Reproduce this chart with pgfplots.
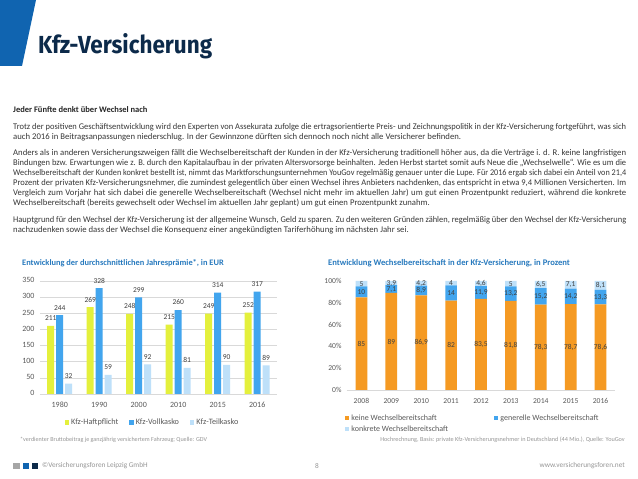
\documentclass[border=0pt]{standalone}
\usepackage{fontspec}
\setmainfont{Carlito}[Numbers=Lining]
\newfontfamily\titlefont{Fira Sans}
\usepackage{graphicx}
\usepackage{pgfplots}
\usepackage{pgfplotstable}
\pgfplotsset{compat=1.18, /pgf/number format/assume math mode=true}
\definecolor{brandblue}{RGB}{16,100,176}
\definecolor{navy}{RGB}{12,42,74}
\definecolor{bodytext}{RGB}{55,55,55}
\definecolor{titleblue}{RGB}{40,122,190}
\definecolor{tickgray}{RGB}{89,89,89}
\definecolor{gridgray}{RGB}{217,217,217}
\definecolor{labgray}{RGB}{64,64,64}
\definecolor{notegray}{RGB}{150,150,150}
\definecolor{hyellow}{RGB}{228,240,60}
\definecolor{vblue}{RGB}{66,165,238}
\definecolor{tlight}{RGB}{190,224,249}
\definecolor{korange}{RGB}{245,154,35}
\definecolor{sqgray}{RGB}{166,166,166}
\newcommand\fs[2]{\fontsize{#1}{#2}\selectfont}
\newsavebox\linebox
\newcommand\jline[2]{\node[anchor=base west, inner sep=0, text=bodytext] at (13pt,#1pt) {\fs{8.7}{10}\sbox\linebox{#2}\ifdim\wd\linebox>613pt\resizebox{613pt}{\height}{#2}\else\makebox[613pt][s]{#2}\fi};}
\newcommand\nline[2]{\node[anchor=base west, inner sep=0, text=bodytext] at (13pt,#1pt) {\fs{8.7}{10}#2};}
\pgfplotstableread{
x h v t
0 211 244 32
1 269 328 59
2 248 299 92
3 215 260 81
4 249 314 90
5 252 317 89
}\praemie
\pgfplotstableread{
x k g c
0 85 10 5
1 89 7.1 3.9
2 86.9 8.9 4.2
3 82 14 4
4 83.5 11.9 4.6
5 81.8 13.2 5
6 78.3 15.2 6.5
7 78.7 14.2 7.1
8 78.6 13.3 8.1
}\wechsel
\begin{document}
\begin{tikzpicture}
\path[use as bounding box, fill=white] (0pt,0pt) rectangle (638pt,479pt);
% header
\fill[brandblue] (0pt,479pt) -- (36pt,479pt) -- (22pt,413pt) -- (0pt,413pt) -- cycle;
\node[anchor=base west, inner sep=0, text=navy] at (38pt,425pt) {\resizebox{174pt}{20pt}{\titlefont\bfseries Kfz-Versicherung}};
% body text
\node[anchor=base west, inner sep=0, text=black!85] at (13pt,366pt) {\fs{8.5}{10}\bfseries Jeder Fünfte denkt über Wechsel nach};
\jline{349.5}{Trotz der positiven Geschäftsentwicklung wird den Experten von Assekurata zufolge die ertragsorientierte Preis- und Zeichnungspolitik in der Kfz-Versicherung fortgeführt, was sich}
\nline{339.5}{auch 2016 in Beitragsanpassungen niederschlug. In der Gewinnzone dürften sich dennoch noch nicht alle Versicherer befinden.}
\jline{323}{Anders als in anderen Versicherungszweigen fällt die Wechselbereitschaft der Kunden in der Kfz-Versicherung traditionell höher aus, da die Verträge i. d. R. keine langfristigen}
\jline{313}{Bindungen bzw. Erwartungen wie z. B. durch den Kapitalaufbau in der privaten Altersvorsorge beinhalten. Jeden Herbst startet somit aufs Neue die „Wechselwelle“. Wie es um die}
\jline{303}{Wechselbereitschaft der Kunden konkret bestellt ist, nimmt das Marktforschungsunternehmen YouGov regelmäßig genauer unter die Lupe. Für 2016 ergab sich dabei ein Anteil von 21,4}
\jline{293}{Prozent der privaten Kfz-Versicherungsnehmer, die zumindest gelegentlich über einen Wechsel ihres Anbieters nachdenken, das entspricht in etwa 9,4 Millionen Versicherten. Im}
\jline{283}{Vergleich zum Vorjahr hat sich dabei die generelle Wechselbereitschaft (Wechsel nicht mehr im aktuellen Jahr) um gut einen Prozentpunkt reduziert, während die konkrete}
\nline{273}{Wechselbereitschaft (bereits gewechselt oder Wechsel im aktuellen Jahr geplant) um gut einen Prozentpunkt zunahm.}
\jline{256.5}{Hauptgrund für den Wechsel der Kfz-Versicherung ist der allgemeine Wunsch, Geld zu sparen. Zu den weiteren Gründen zählen, regelmäßig über den Wechsel der Kfz-Versicherung}
\nline{246.5}{nachzudenken sowie dass der Wechsel die Konsequenz einer angekündigten Tariferhöhung im nächsten Jahr sei.}
% chart titles
\node[anchor=west, inner sep=0, text=titleblue] at (22pt,216pt) {\fs{8.4}{9}\bfseries Entwicklung der durchschnittlichen Jahresprämie*, in EUR};
\node[anchor=west, inner sep=0, text=titleblue] at (328pt,216pt) {\fs{8.6}{9}\bfseries Entwicklung Wechselbereitschaft in der Kfz-Versicherung, in Prozent};
% left chart
\begin{axis}[
  at={(40pt,85pt)}, anchor=south west, scale only axis, width=237pt, height=113pt,
  xmin=-0.5, xmax=5.5, ymin=0, ymax=350,
  ytick={0,50,...,350}, xtick={0,...,5}, xticklabels={1980,1990,2000,2010,2015,2016},
  typeset ticklabels with strut,
  ymajorgrids, grid style={draw=gridgray, line width=0.6pt},
  axis line style={draw=none}, tick style={draw=none},
  ybar=2pt, bar width=7pt,
  ticklabel style={font=\fs{8}{9}, text=tickgray},
  yticklabel style={xshift=-2pt},
  xticklabel style={anchor=north, yshift=1pt},
  nodes near coords,
  every node near coord/.append style={font=\fs{7.5}{8}, text=labgray, yshift=1.5pt},
  legend columns=3,
  legend style={at={(0.475,-0.254)}, anchor=center, draw=none, fill=none, inner sep=0pt,
    font=\fs{8.2}{9}, text=tickgray, /tikz/every even column/.append style={column sep=9pt}},
  legend image code/.code={\fill[#1] (0pt,-2.2pt) rectangle (4.4pt,2.2pt);},
  clip=false]
\addplot[fill=hyellow, draw=none] table[x=x, y=h] {\praemie};
\addplot[fill=vblue, draw=none] table[x=x, y=v] {\praemie};
\addplot[fill=tlight, draw=none] table[x=x, y=t] {\praemie};
\legend{Kfz-Haftpflicht, Kfz-Vollkasko, Kfz-Teilkasko}
\end{axis}
% right chart
\begin{axis}[
  at={(346.5pt,89pt)}, anchor=south west, scale only axis, width=269pt, height=109pt,
  xmin=-0.5, xmax=8.5, ymin=0, ymax=100,
  ytick={0,20,...,100}, yticklabel={\pgfmathprintnumber{\tick}\%},
  xtick={0,...,8}, xticklabels={2008,2009,2010,2011,2012,2013,2014,2015,2016},
  axis line style={draw=none}, tick style={draw=none},
  ybar stacked, bar width=11.7pt,
  ticklabel style={font=\fs{7.6}{9}, text=tickgray},
  yticklabel style={xshift=-1.5pt},
  xticklabel style={anchor=north, yshift=-5pt},
  nodes near coords={\pgfmathprintnumber[use comma,fixed,precision=1]{\pgfplotspointmeta}},
  every node near coord/.append style={anchor=center, font=\fs{7.5}{8}, text=labgray},
  legend columns=2, legend cell align=left,
  legend style={at={(-0.006,-0.205)}, anchor=north west, draw=none, fill=none, inner sep=0pt,
    font=\fs{8}{9}, text=tickgray, row sep=0pt, /tikz/every even column/.append style={column sep=44pt}},
  legend image code/.code={\fill[#1] (0pt,-2.2pt) rectangle (4.4pt,2.2pt);},
  clip=false]
\addplot[fill=korange, draw=none, point meta=\thisrow{k}] table[x=x, y=k] {\wechsel};
\addplot[fill=vblue, draw=none, point meta=\thisrow{g}] table[x=x, y=g] {\wechsel};
\addplot[fill=tlight, draw=none, point meta=\thisrow{c}] table[x=x, y=c] {\wechsel};
\draw[gridgray, line width=0.6pt] (rel axis cs:0,0) -- (rel axis cs:1,0);
\legend{keine Wechselbereitschaft, generelle Wechselbereitschaft, konkrete Wechselbereitschaft}
\end{axis}
% notes
\node[anchor=west, inner sep=0, text=notegray] at (20pt,39pt) {\fs{6.1}{7}*verdienter Bruttobeitrag je ganzjährig versichertem Fahrzeug; Quelle: GDV};
\node[anchor=east, inner sep=0, text=notegray] at (625pt,39pt) {\fs{6.2}{7}Hochrechnung, Basis: private Kfz-Versicherungsnehmer in Deutschland (44 Mio.), Quelle: YouGov};
% footer
\fill[sqgray] (13pt,9.75pt) rectangle (19.5pt,16.25pt);
\fill[brandblue] (22.5pt,9.75pt) rectangle (29pt,16.25pt);
\fill[navy] (31.5pt,9.75pt) rectangle (38pt,16.25pt);
\node[anchor=west, inner sep=0, text=notegray] at (42pt,13pt) {\fs{7.3}{8}©Versicherungsforen Leipzig GmbH};
\node[inner sep=0, text=notegray] at (317pt,13pt) {\fs{7.3}{8}8};
\node[anchor=east, inner sep=0, text=notegray] at (625pt,13pt) {\fs{7.3}{8}www.versicherungsforen.net};
\end{tikzpicture}
\end{document}
